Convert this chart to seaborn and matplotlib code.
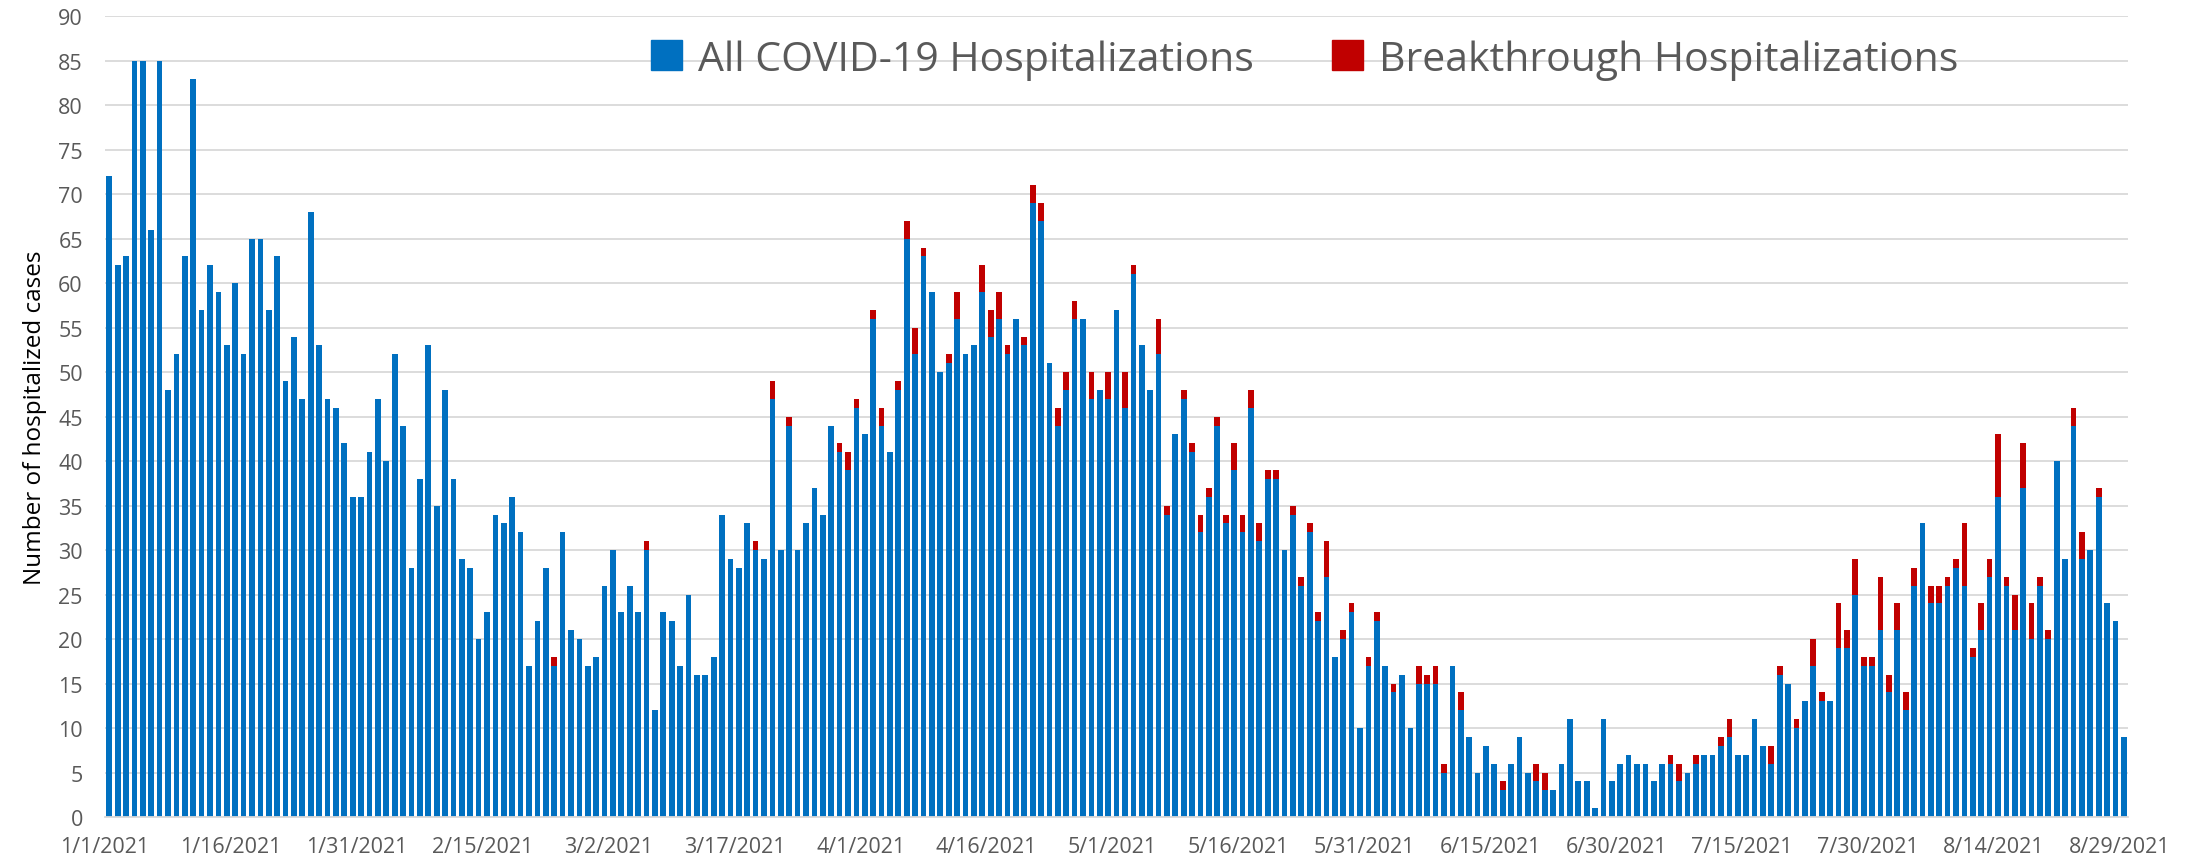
import pandas as pd
import numpy as np
import matplotlib.pyplot as plt
import seaborn as sns
from matplotlib.patches import Patch

# ── Data: daily hospitalizations, 1/1/2021 – 8/29/2021 ──────
# blue part of each bar (non-breakthrough) and red part (breakthrough) stacked on top
base_jan = [72, 62, 63, 85, 85, 66, 85, 48, 52, 63, 83, 57, 62, 59, 53, 60,
            52, 65, 65, 57, 63, 49, 54, 47, 68, 53, 47, 46, 42, 36, 36]
base_feb = [41, 47, 40, 52, 44, 28, 38, 53, 35, 48, 38, 29, 28, 20, 23, 34,
            33, 36, 32, 17, 22, 28, 17, 32, 21, 20, 17, 18]
base_mar = [26, 30, 23, 26, 23, 30, 12, 23, 22, 17, 25, 16, 16, 18, 34, 29,
            28, 33, 30, 29, 47, 30, 44, 30, 33, 37, 34, 44, 41, 39, 46]
base_apr = [43, 56, 44, 41, 48, 65, 52, 63, 59, 50, 51, 56, 52, 53, 59, 54,
            56, 52, 56, 53, 69, 67, 51, 44, 48, 56, 56, 47, 48, 47]
base_may = [57, 46, 61, 53, 48, 52, 34, 43, 47, 41, 32, 36, 44, 33, 39, 32,
            46, 31, 38, 38, 30, 34, 26, 32, 22, 27, 18, 20, 23, 10, 17]
base_jun = [22, 17, 14, 16, 10, 15, 15, 15, 5, 17, 12, 9, 5, 8, 6, 3,
            6, 9, 5, 4, 3, 3, 6, 11, 4, 4, 1, 11, 4, 6]
base_jul = [7, 6, 6, 4, 6, 6, 4, 5, 6, 7, 7, 8, 9, 7, 7, 11,
            8, 6, 16, 15, 10, 13, 17, 13, 13, 19, 19, 25, 17, 17, 21]
base_aug = [14, 21, 12, 26, 33, 24, 24, 26, 28, 26, 18, 21, 27, 36, 26, 21,
            37, 20, 26, 20, 40, 29, 44, 29, 30, 36, 24, 22, 9]

bt_jan = [0] * 31
bt_feb = [0, 0, 0, 0, 0, 0, 0, 0, 0, 0, 0, 0, 0, 0, 0, 0,
          0, 0, 0, 0, 0, 0, 1, 0, 0, 0, 0, 0]
bt_mar = [0, 0, 0, 0, 0, 1, 0, 0, 0, 0, 0, 0, 0, 0, 0, 0,
          0, 0, 1, 0, 2, 0, 1, 0, 0, 0, 0, 0, 1, 2, 1]
bt_apr = [0, 1, 2, 0, 1, 2, 3, 1, 0, 0, 1, 3, 0, 0, 3, 3,
          3, 1, 0, 1, 2, 2, 0, 2, 2, 2, 0, 3, 0, 3]
bt_may = [0, 4, 1, 0, 0, 4, 1, 0, 1, 1, 2, 1, 1, 1, 3, 2,
          2, 2, 1, 1, 0, 1, 1, 1, 1, 4, 0, 1, 1, 0, 1]
bt_jun = [1, 0, 1, 0, 0, 2, 1, 2, 1, 0, 2, 0, 0, 0, 0, 1,
          0, 0, 0, 2, 2, 0, 0, 0, 0, 0, 0, 0, 0, 0]
bt_jul = [0, 0, 0, 0, 0, 1, 2, 0, 1, 0, 0, 1, 2, 0, 0, 0,
          0, 2, 1, 0, 1, 0, 3, 1, 0, 5, 2, 4, 1, 1, 6]
bt_aug = [2, 3, 2, 2, 0, 2, 2, 1, 1, 7, 1, 3, 2, 7, 1, 4,
          5, 4, 1, 1, 0, 0, 2, 3, 0, 1, 0, 0, 0]

base = base_jan + base_feb + base_mar + base_apr + base_may + base_jun + base_jul + base_aug
bt = bt_jan + bt_feb + bt_mar + bt_apr + bt_may + bt_jun + bt_jul + bt_aug

dates = pd.date_range('2021-01-01', '2021-08-29', freq='D')
labels = [f"{d.month}/{d.day}/{d.year}" for d in dates]

df = pd.DataFrame({'date': labels, 'base': base, 'bt': bt})
df['total'] = df['base'] + df['bt']

BLUE = '#0070C0'
RED = '#C00000'
GRAY = '#595959'

# ── Plot ─────────────────────────────────────────────────────
sns.set_style('white')
plt.rcParams['font.family'] = ['Open Sans', 'DejaVu Sans']

fig = plt.figure(figsize=(22.03, 8.62), dpi=100)
ax = fig.add_axes([0.0477, 0.051, 0.9183, 0.929])

sns.barplot(data=df, x='date', y='total', color=RED, saturation=1,
            width=0.68, linewidth=0, ax=ax)
sns.barplot(data=df, x='date', y='base', color=BLUE, saturation=1,
            width=0.68, linewidth=0, ax=ax)

n = len(df)
ax.set_xlim(-0.5, n - 0.5)
ax.set_ylim(0, 90)
ax.set_yticks(range(0, 91, 5))
ax.yaxis.grid(True, color='#d9d9d9', linewidth=1.3)
ax.set_axisbelow(True)

tick_pos = np.arange(0, n, 15)
ax.set_xticks(tick_pos - 0.5)
ax.set_xticklabels([labels[i] for i in tick_pos])
ax.tick_params(axis='x', labelsize=15.5, length=5, width=1.2, color='#d9d9d9',
               direction='out', pad=9, labelcolor=GRAY)
ax.tick_params(axis='y', labelsize=15.5, length=0, pad=16, labelcolor=GRAY)

for s in ['top', 'right', 'left']:
    ax.spines[s].set_visible(False)
ax.spines['bottom'].set_color('#d9d9d9')
ax.spines['bottom'].set_linewidth(1.3)

ax.set_xlabel('')
ax.set_ylabel('Number of hospitalized cases', fontsize=17.5, color='black', labelpad=8)

handles = [Patch(color=BLUE, label='All COVID-19 Hospitalizations'),
           Patch(color=RED, label='Breakthrough Hospitalizations')]
leg = ax.legend(handles=handles, loc='center', bbox_to_anchor=(0.593, 0.946),
                ncol=2, frameon=False, fontsize=29.5, handlelength=0.75,
                handleheight=0.75, handletextpad=0.4, columnspacing=1.9)
for t in leg.get_texts():
    t.set_color(GRAY)

fig.savefig('out.png', dpi=100)
